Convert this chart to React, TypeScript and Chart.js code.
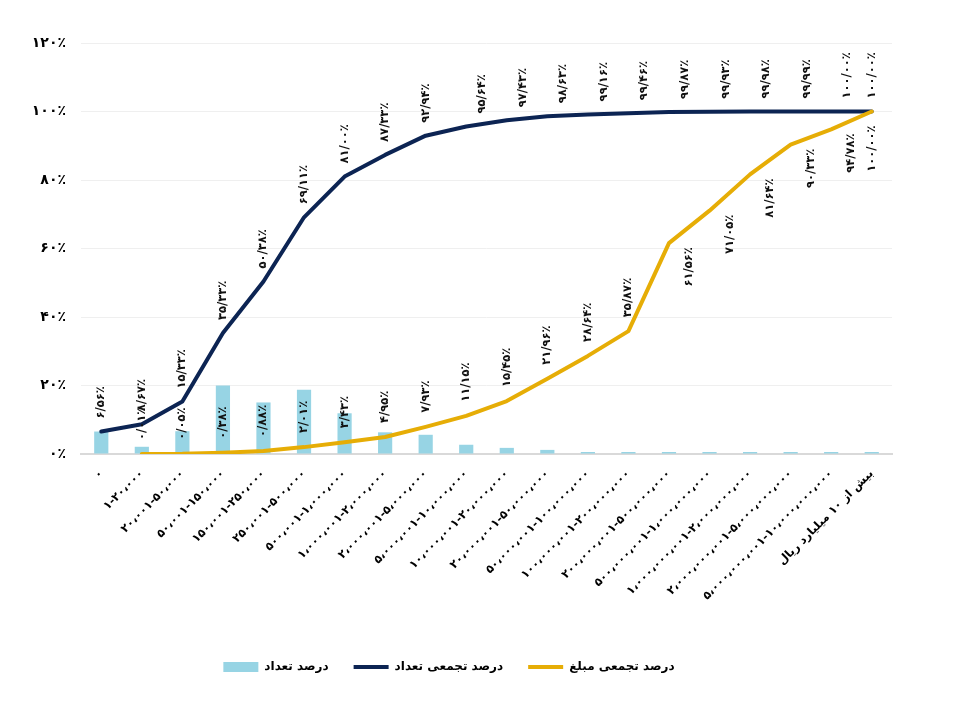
import React, { useEffect, useRef } from 'react';
import { Chart, registerables } from 'chart.js';

Chart.register(...registerables);

const categories: string[] = [
  '۰',
  '۱-۲۰،۰۰۰',
  '۲۰،۰۰۱-۵۰،۰۰۰',
  '۵۰،۰۰۱-۱۵۰،۰۰۰',
  '۱۵۰،۰۰۱-۲۵۰،۰۰۰',
  '۲۵۰،۰۰۱-۵۰۰،۰۰۰',
  '۵۰۰،۰۰۱-۱،۰۰۰،۰۰۰',
  '۱،۰۰۰،۰۰۱-۲،۰۰۰،۰۰۰',
  '۲،۰۰۰،۰۰۱-۵،۰۰۰،۰۰۰',
  '۵،۰۰۰،۰۰۱-۱۰،۰۰۰،۰۰۰',
  '۱۰،۰۰۰،۰۰۱-۲۰،۰۰۰،۰۰۰',
  '۲۰،۰۰۰،۰۰۱-۵۰،۰۰۰،۰۰۰',
  '۵۰،۰۰۰،۰۰۱-۱۰۰،۰۰۰،۰۰۰',
  '۱۰۰،۰۰۰،۰۰۱-۲۰۰،۰۰۰،۰۰۰',
  '۲۰۰،۰۰۰،۰۰۱-۵۰۰،۰۰۰،۰۰۰',
  '۵۰۰،۰۰۰،۰۰۱-۱،۰۰۰،۰۰۰،۰۰۰',
  '۱،۰۰۰،۰۰۰،۰۰۱-۲،۰۰۰،۰۰۰،۰۰۰',
  '۲،۰۰۰،۰۰۰،۰۰۱-۵،۰۰۰،۰۰۰،۰۰۰',
  '۵،۰۰۰،۰۰۰،۰۰۱-۱۰،۰۰۰،۰۰۰،۰۰۰',
  'بیش از ۱۰ میلیارد ریال',
];

// درصد تعداد
const countPercent: number[] = [
  6.56, 2.11, 6.66, 20.0, 15.05, 18.73, 11.89, 6.33, 5.61, 2.7,
  1.79, 1.2, 0.53, 0.3, 0.41, 0.06, 0.05, 0.01, 0.01, 0.0,
];

// درصد تجمعی تعداد
const cumulativeCount: number[] = [
  6.56, 8.67, 15.33, 35.33, 50.38, 69.11, 81.0, 87.33, 92.94, 95.64,
  97.43, 98.63, 99.16, 99.46, 99.87, 99.93, 99.98, 99.99, 100.0, 100.0,
];

// درصد تجمعی مبلغ
const cumulativeAmount: (number | null)[] = [
  null, 0.01, 0.05, 0.38, 0.88, 2.01, 3.43, 4.95, 7.93, 11.15,
  15.45, 21.96, 28.64, 35.87, 61.56, 71.05, 81.64, 90.33, 94.78, 100.0,
];

const yTicks: number[] = [0, 20, 40, 60, 80, 100, 120];

const seriesNames = ['درصد تعداد', 'درصد تجمعی تعداد', 'درصد تجمعی مبلغ'];

const BAR_COLOR = '#97D4E4';
const NAVY = '#0C2453';
const GOLD = '#E6AD06';
const FONT = '"DejaVu Sans", sans-serif';

const faDigits = '۰۱۲۳۴۵۶۷۸۹';
const toFa = (s: string) => s.replace(/\d/g, (d) => faDigits[+d]);
const fmtPct = (v: number) => toFa(v.toFixed(2)).replace('.', '/') + '٪';

const labelPlugin = {
  id: 'rotatedPointLabels',
  afterDatasetsDraw(chart: any) {
    const ctx = chart.ctx;
    ctx.save();
    ctx.font = 'bold 11.5px ' + FONT;
    ctx.fillStyle = '#111';
    ctx.textBaseline = 'middle';
    [1, 2].forEach((dsIndex) => {
      const meta = chart.getDatasetMeta(dsIndex);
      const data = chart.data.datasets[dsIndex].data;
      const n = data.length;
      meta.data.forEach((pt: any, i: number) => {
        const v = data[i];
        if (v == null) return;
        let ax = pt.x;
        let ay = pt.y;
        let align: CanvasTextAlign = 'left';
        if (dsIndex === 1) {
          ax += i >= 9 && i < n - 1 ? 16 : 0;
          ay -= 13;
        } else {
          if (i <= 13) {
            ay -= 14;
          } else if (i < n - 1) {
            ax += 20;
            ay += 4;
            align = 'right';
          } else {
            ay += 14;
            align = 'right';
          }
        }
        ctx.save();
        ctx.translate(ax, ay);
        ctx.rotate(-Math.PI / 2);
        ctx.textAlign = align;
        ctx.fillText(fmtPct(v), 0, 0);
        ctx.restore();
      });
    });
    ctx.restore();
  },
};

export default function App() {
  const canvasRef = useRef<HTMLCanvasElement | null>(null);

  useEffect(() => {
    if (!canvasRef.current) return;
    const chart = new Chart(canvasRef.current, {
      type: 'bar',
      data: {
        labels: categories,
        datasets: [
          {
            type: 'bar',
            label: seriesNames[0],
            data: countPercent,
            backgroundColor: BAR_COLOR,
            borderWidth: 0,
            barPercentage: 0.35,
            categoryPercentage: 1,
            minBarLength: 2,
            order: 3,
          },
          {
            type: 'line',
            label: seriesNames[1],
            data: cumulativeCount,
            borderColor: NAVY,
            backgroundColor: NAVY,
            borderWidth: 4,
            pointRadius: 0,
            tension: 0,
            borderJoinStyle: 'round',
            borderCapStyle: 'round',
            order: 2,
          },
          {
            type: 'line',
            label: seriesNames[2],
            data: cumulativeAmount,
            borderColor: GOLD,
            backgroundColor: GOLD,
            borderWidth: 4,
            pointRadius: 0,
            tension: 0,
            borderJoinStyle: 'round',
            borderCapStyle: 'round',
            order: 1,
          },
        ] as any,
      },
      options: {
        animation: false,
        responsive: false,
        devicePixelRatio: 1,
        layout: { padding: { top: 43, left: 6, right: 83, bottom: 21 } },
        plugins: {
          tooltip: { enabled: false },
          legend: {
            position: 'bottom',
            reverse: true,
            labels: {
              usePointStyle: true,
              pointStyleWidth: 35,
              boxHeight: 10,
              padding: 25,
              color: '#000',
              font: { family: FONT, size: 12, weight: 'bold' },
              generateLabels: (c: any) => {
                const items = (Chart.defaults.plugins.legend.labels as any).generateLabels(c);
                return items.map((it: any) => {
                  const ds: any = c.data.datasets[it.datasetIndex];
                  if (ds.type === 'bar') {
                    return { ...it, pointStyle: 'rect', fillStyle: BAR_COLOR, strokeStyle: BAR_COLOR, lineWidth: 0 };
                  }
                  return { ...it, pointStyle: 'line', strokeStyle: ds.borderColor, fillStyle: ds.borderColor, lineWidth: 4 };
                });
              },
            },
          },
        },
        scales: {
          x: {
            offset: true,
            grid: { display: false, drawTicks: false },
            border: { display: true, color: '#d9d9d9', width: 2 },
            ticks: {
              autoSkip: false,
              maxRotation: 45,
              minRotation: 45,
              padding: 13,
              color: '#000',
              font: { family: FONT, size: 11.5, weight: 'bold' },
            },
            afterFit: (s: any) => {
              s.height = 182;
            },
          },
          y: {
            min: yTicks[0],
            max: yTicks[yTicks.length - 1],
            afterBuildTicks: (s: any) => {
              s.ticks = yTicks.map((v) => ({ value: v }));
            },
            grid: { color: '#efefef', lineWidth: 1, drawTicks: false },
            border: { display: false },
            ticks: {
              padding: 15,
              color: '#000',
              font: { family: FONT, size: 14, weight: 'bold' },
              callback: (v: any) => toFa(String(v)) + '٪',
            },
            afterFit: (s: any) => {
              s.width = 75;
            },
          },
        },
      },
      plugins: [labelPlugin],
    });
    return () => chart.destroy();
  }, []);

  return (
    <div style={{ position: 'absolute', left: 0, top: 0, width: 975, height: 704, background: '#fff' }}>
      <canvas ref={canvasRef} width={975} height={704} style={{ display: 'block' }} />
    </div>
  );
}
